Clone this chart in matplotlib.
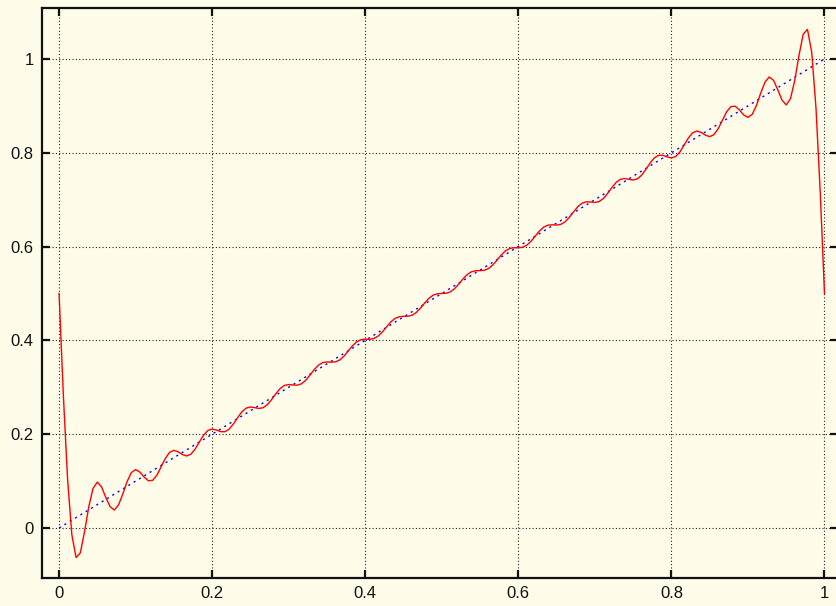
import matplotlib
matplotlib.use("Agg")
import matplotlib.pyplot as plt
import numpy as np

# Partial Fourier sum of the sawtooth, sampled at 181 points on [0, 1]
x_samples = [i / 180 for i in range(181)]
red_y = [
    0.5000, 0.2842, 0.1043, -0.0141, -0.0631, -0.0530, -0.0075, 0.0460, 0.0847, 0.0979,
    0.0875, 0.0651, 0.0454, 0.0384, 0.0494, 0.0729, 0.0991, 0.1181, 0.1245, 0.1193,
    0.1087, 0.1007, 0.1015, 0.1125, 0.1303, 0.1486, 0.1614, 0.1656, 0.1625, 0.1566,
    0.1536, 0.1573, 0.1683, 0.1835, 0.1982, 0.2079, 0.2110, 0.2089, 0.2055, 0.2053,
    0.2108, 0.2218, 0.2354, 0.2478, 0.2556, 0.2580, 0.2566, 0.2549, 0.2565, 0.2631,
    0.2741, 0.2867, 0.2975, 0.3040, 0.3058, 0.3049, 0.3045, 0.3074, 0.3149, 0.3259,
    0.3377, 0.3472, 0.3526, 0.3541, 0.3536, 0.3542, 0.3582, 0.3664, 0.3774, 0.3885,
    0.3970, 0.4015, 0.4026, 0.4024, 0.4039, 0.4089, 0.4177, 0.4287, 0.4392, 0.4468,
    0.4505, 0.4513, 0.4514, 0.4536, 0.4595, 0.4689, 0.4799, 0.4898, 0.4966, 0.4995,
    0.5000,
    0.5005, 0.5034, 0.5102, 0.5201, 0.5311, 0.5405, 0.5464, 0.5486, 0.5487, 0.5495,
    0.5532, 0.5608, 0.5713, 0.5823, 0.5911, 0.5961, 0.5976, 0.5974, 0.5985, 0.6030,
    0.6115, 0.6226, 0.6336, 0.6418, 0.6458, 0.6464, 0.6459, 0.6474, 0.6528, 0.6623,
    0.6741, 0.6851, 0.6926, 0.6955, 0.6951, 0.6942, 0.6960, 0.7025, 0.7133, 0.7259,
    0.7369, 0.7435, 0.7451, 0.7434, 0.7420, 0.7444, 0.7522, 0.7646, 0.7782, 0.7892,
    0.7947, 0.7945, 0.7911, 0.7890, 0.7921, 0.8018, 0.8165, 0.8317, 0.8427, 0.8464,
    0.8434, 0.8375, 0.8344, 0.8386, 0.8514, 0.8697, 0.8875, 0.8985, 0.8993, 0.8913,
    0.8807, 0.8755, 0.8819, 0.9009, 0.9271, 0.9506, 0.9616, 0.9546, 0.9349, 0.9125,
    0.9021, 0.9153, 0.9540, 1.0075, 1.0530, 1.0631, 1.0141, 0.8957, 0.7158, 0.5000,
]

blue_x = [0.0, 1.0]
blue_y = [0.0, 1.0]

x_ticks = [0, 0.2, 0.4, 0.6, 0.8, 1]
x_tick_labels = ["0", "0.2", "0.4", "0.6", "0.8", "1"]
y_ticks = [0, 0.2, 0.4, 0.6, 0.8, 1]
y_tick_labels = ["0", "0.2", "0.4", "0.6", "0.8", "1"]

bg = "#fffcea"
W, H = 836, 606
fig = plt.figure(figsize=(W / 100, H / 100), dpi=100, facecolor=bg)
ax = fig.add_axes([42 / W, (H - 578) / H, (837.5 - 42) / W, (578 - 8) / H])
ax.set_facecolor(bg)

ax.plot(x_samples, red_y, color="#ff0000", lw=1.0, zorder=3)
ax.plot(blue_x, blue_y, color="#0000ff", lw=1.0, linestyle=(0, (1.5, 3.0)), zorder=2)

ax.set_xlim(-0.0223, 1.0170)
ax.set_ylim(-0.1066, 1.1087)

ax.set_xticks(x_ticks)
ax.set_xticklabels(x_tick_labels)
ax.set_yticks(y_ticks)
ax.set_yticklabels(y_tick_labels)

ax.grid(True, color="#222222", linestyle=(0, (1, 2)), lw=0.8)
ax.set_axisbelow(True)

for s in ax.spines.values():
    s.set_linewidth(1.6)
    s.set_color("#111111")

ax.tick_params(direction="in", length=6, width=1.6, top=True, right=True,
               labelsize=12, pad=6, colors="#111111")
for lbl in ax.get_xticklabels() + ax.get_yticklabels():
    lbl.set_fontfamily(["Liberation Sans", "DejaVu Sans"])

fig.savefig("out.png", dpi=100, facecolor=bg)
